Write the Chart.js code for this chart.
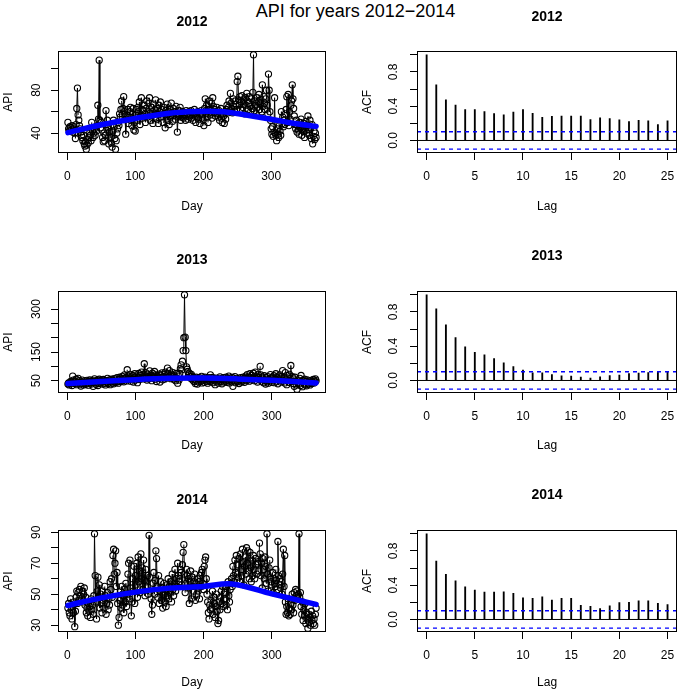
<!DOCTYPE html>
<html lang="en">
<head>
<meta charset="UTF-8">
<title>API for years 2012−2014</title>
<style>
  *{box-sizing:border-box;margin:0;padding:0}
  body{width:685px;height:693px;background:#fff;position:relative;overflow:hidden;font-family:"Liberation Sans",Arial,Helvetica,sans-serif;color:#000}
  #main{position:absolute;top:2px;left:355.5px;transform:translateX(-50%);font-size:18px;line-height:18px;white-space:nowrap}
  canvas{position:absolute}
</style>
</head>
<body>

<div id="main">API for years 2012−2014</div>

<script src="https://cdn.jsdelivr.net/npm/chart.js@4.4.0"></script>
<script>
/* daily API values (day 1..n) */
const api2012=[
 50,44,42,46,45,43,47,41,44,46, 40,35,48,63,82,57,52,47,44,41, 38,36,33,38,30,28,32,25,29,34,
 31,36,40,38,33,50,42,36,40,44, 38,46,42,47,66,53,108,52,45,50, 43,36,32,40,33,38,61,48,52,45,
 30,41,36,47,31,27,42,52,46,35, 25,33,40,44,50,47,58,55,62,70, 58,63,74,60,56,39,53,57,62,49,
 55,60,64,52,47,58,63,43,50,42, 57,62,52,64,60,69,48,56,73,62, 54,61,66,58,50,63,70,55,60,68,
 73,52,57,64,60,49,67,55,62,71, 58,53,63,49,66,60,69,55,62,57, 50,64,58,45,61,56,67,52,60,48,
 62,55,68,59,51,63,57,60,53,65, 58,41,55,61,56,64,52,58,55,60, 54,59,57,52,61,56,58,53,60,55,
 57,61,54,59,52,58,62,56,50,59, 55,60,53,57,49,58,61,54,56,52, 47,63,72,58,66,55,50,62,70,57,
 61,68,54,73,65,59,62,56,60,64, 58,55,61,52,57,63,54,50,58,56, 49,60,53,62,66,59,64,70,61,77,
 68,63,59,72,65,60,70,67,62,88, 93,71,66,74,62,69,75,64,71,67, 58,73,66,77,70,62,68,74,65,60,
 72,63,78,113,61,70,66,58,73,64, 69,76,62,67,71,60,85,65,74,68, 62,72,80,66,58,95,80,60,52,44,
 39,46,37,41,73,40,38,33,44,39, 36,47,42,38,60,49,55,46,52,48, 58,62,74,50,76,47,60,53,66,70,
 85,72,63,56,48,44,52,41,47,43, 39,50,45,53,38,46,42,49,36,44, 51,40,47,56,43,38,52,45,35,48,
 30,37,42,34,40,36];
const api2013=[
 38,42,35,40,47,44,33,66,52,45, 40,48,55,36,42,58,50,44,38,31, 46,52,40,35,43,49,37,45,51,41,
 34,47,53,42,38,50,44,30,48,56, 43,37,51,46,33,40,55,48,42,52, 45,38,54,47,41,35,50,44,58,40,
 48,53,36,46,55,42,50,39,57,45, 52,44,60,48,41,55,62,47,58,50, 65,53,46,70,57,61,49,88,66,54,
 59,72,48,63,55,68,45,60,74,52, 66,57,43,62,75,54,69,58,80,63, 71,56,109,67,78,60,52,73,65,57,
 84,61,68,50,76,59,64,82,55,70, 47,66,62,58,73,45,69,60,77,53, 64,71,56,80,66,60,94,74,62,85,
 68,57,72,63,78,55,67,60,50,75, 58,41,66,52,75,92,105,88,118,155, 200,350,202,155,98,90,82,70,76,64,
 58,72,66,52,61,47,55,40,62,50, 38,57,45,60,53,48,65,42,56,51, 44,62,55,48,58,41,52,60,47,70,
 54,49,61,43,57,52,36,59,46,55, 50,41,58,63,47,53,39,56,60,45, 52,48,62,44,57,50,66,42,59,54,
 46,61,30,55,49,64,43,58,51,47, 56,40,53,60,45,52,48,62,57,44, 59,66,50,71,55,62,48,74,60,53,
 68,57,76,63,50,80,58,66,45,72, 61,54,100,70,48,62,56,43,67,52, 38,60,46,64,41,55,49,71,58,44,
 62,50,67,43,56,74,48,60,39,66, 52,70,45,63,57,85,49,61,42,78, 55,36,68,50,44,72,58,103,47,64,
 40,56,30,62,48,35,20,44,52,38, 58,33,68,45,29,50,41,55,36,47, 32,53,42,38,49,35,44,51,40,46,
 54,42,48,56,50];
const api2014=[
 41,44,38,36,47,40,34,42,38,45, 29,39,48,52,44,51,46,53,49,55, 47,52,45,50,54,43,48,38,41,36,
 44,39,42,35,47,40,43,37,49,89, 62,45,34,52,61,48,56,41,50,44, 38,52,46,41,55,49,37,44,51,40,
 47,43,58,53,60,48,75,79,63,70, 78,55,64,44,30,35,46,52,41,55, 43,49,38,53,45,57,42,50,63,70,
 47,72,54,36,45,60,52,68,44,62, 56,70,48,74,58,65,51,76,60,67, 53,72,59,49,66,58,55,62,50,88,
 61,52,47,37,43,57,64,50,59,78, 73,55,48,62,44,52,58,46,54,41, 50,57,45,53,42,56,49,60,47,55,
 51,58,45,63,53,49,57,66,52,60, 55,70,62,58,60,66,64,56,69,77, 82,63,51,57,66,62,54,60,44,58,
 65,47,61,55,52,58,63,46,57,50, 60,52,58,47,62,55,64,66,57,53, 68,72,74,60,50,45,38,34,43,40,
 46,41,52,37,48,44,35,42,50,39, 31,33,45,40,48,52,44,55,42,50, 51,47,43,55,40,58,49,45,53,57,
 60,55,68,62,58,72,64,75,69,63, 61,73,58,76,66,62,79,71,56,68, 74,63,80,70,78,65,60,77,67,58,
 72,62,75,66,60,73,69,63,70,71, 65,83,76,62,70,54,73,66,60,74, 68,57,89,63,52,67,72,61,58,56,
 64,51,60,57,55,66,59,53,84,62, 56,60,54,58,50,63,79,55,75,45, 37,42,38,47,36,41,37,44,40,50,
 43,38,51,46,53,49,52,47,50,89, 48,51,42,37,45,33,40,36,44,31, 38,34,28,37,32,35,30,39,33,36,
 31,34,30,37,41];

/* blue smoothing curve */
const smoothDays2012=[1,50,100,150,190,230,252,300,330,366];
const smoothVals2012=[40.5,47.8,53.7,58.6,60.2,60,58,53,49.5,46.3];
const smoothDays2013=[1,50,100,150,200,250,300,365];
const smoothVals2013=[40,47,53.5,58,59,56,51,42];
const smoothDays2014=[1,50,100,150,200,242,300,365];
const smoothVals2014=[42.7,47.6,51.3,53.9,55,56.6,50.2,43.4];

/* ACF by lag */
const lags=[0,1,2,3,4,5,6,7,8,9,10,11,12,13,14,15,16,17,18,19,20,21,22,23,24,25];
const acf2012=[1,0.649,0.475,0.414,0.36,0.36,0.336,0.313,0.298,0.332,0.36,0.317,0.27,0.282,0.286,0.286,0.286,0.243,0.263,0.255,0.24,0.22,0.236,0.228,0.185,0.228];
const acf2013=[1,0.835,0.649,0.502,0.394,0.328,0.298,0.255,0.205,0.162,0.12,0.089,0.089,0.07,0.054,0.05,0.039,0.027,0.043,0.058,0.062,0.081,0.085,0.093,0.104,0.104];
const acf2014=[1,0.681,0.527,0.45,0.381,0.342,0.319,0.319,0.323,0.304,0.254,0.246,0.265,0.227,0.246,0.246,0.165,0.154,0.127,0.158,0.196,0.2,0.219,0.219,0.188,0.173];
const ci=0.102;

/* ticks */
const dayTicks=[0,100,200,300];
const yTicks2012=[40,60,80,100],  yLabels2012=[40,80];
const yTicks2013=[50,100,150,200,250,300], yLabels2013=[50,150,300];
const yTicks2014=[30,40,50,60,70,80,90], yLabels2014=[30,50,70,90];
const lagTicks=[0,5,10,15,20,25];
const acfTicks=[0,0.2,0.4,0.6,0.8,1], acfLabels=[0,0.4,0.8];

/* layout */
Chart.defaults.font.family='"Liberation Sans",Arial,Helvetica,sans-serif';
Chart.defaults.color='#000';
const LEFT={left:0,width:345,yw:58,padR:19,yTitlePad:3};
const RIGHT={left:345,width:340,yw:72,padR:1,yTitlePad:16.5};
const ROWS=[
  {top:0,  boxTop:51, boxBottom:153,titleL:22,   titleR:17, axisTitle:207},
  {top:236,boxTop:291,boxBottom:393,titleL:260.5,titleR:256,axisTitle:446},
  {top:470,boxTop:530,boxBottom:632,titleL:500,  titleR:495,axisTitle:683}
];

const boxPlugin={id:'box',afterDraw(chart){
  const {ctx,chartArea:a}=chart;
  ctx.save();ctx.strokeStyle='#000';ctx.lineWidth=1;
  ctx.strokeRect(Math.round(a.left)+0.5,Math.round(a.top)+0.5,Math.round(a.right-a.left)-1,Math.round(a.bottom-a.top)-1);
  ctx.restore();
}};

function makeCanvas(col,row){
  const c=document.createElement('canvas');
  c.width=col.width;c.height=row.axisTitle+10-row.top;
  c.style.left=col.left+'px';c.style.top=row.top+'px';
  document.body.appendChild(c);
  return c;
}

const tickGrid={drawOnChartArea:false,drawTicks:true,tickLength:7,tickColor:'#000',color:'#000',offset:false};

function xScale(min,max,ticks,title,row){
  return {type:'linear',min:min,max:max,offset:false,
    afterBuildTicks:s=>{s.ticks=ticks.map(v=>({value:v}));},
    afterFit:s=>{s.height=row.axisTitle+10-row.boxBottom;},
    grid:tickGrid,border:{display:false},
    ticks:{autoSkip:false,maxRotation:0,padding:10.5,font:{size:12,lineHeight:1}},
    title:{display:true,text:title,font:{size:12,lineHeight:1},padding:{top:0,bottom:4}}};
}
function yScale(min,max,ticks,labels,fmt,title,col,pad){
  return {type:'linear',min:min,max:max,
    afterBuildTicks:s=>{s.ticks=ticks.map(v=>({value:v}));},
    afterFit:s=>{s.width=col.yw;},
    grid:tickGrid,border:{display:false},
    ticks:{autoSkip:false,minRotation:90,maxRotation:90,crossAlign:'center',padding:pad,
      font:{size:12,lineHeight:1},callback:v=>labels.includes(v)?fmt(v):''},
    title:{display:true,text:title,font:{size:12,lineHeight:1},padding:{top:col.yTitlePad,bottom:0}}};
}
function baseOptions(col,row,titleText,titleY,x,y){
  return {responsive:false,animation:false,events:[],
    layout:{padding:{left:0,right:col.padR,top:0,bottom:0}},
    plugins:{legend:{display:false},tooltip:{enabled:false},
      title:{display:true,text:titleText,fullSize:false,color:'#000',
        font:{size:14,weight:'bold',lineHeight:1},
        padding:{top:titleY-7-row.top,bottom:row.boxTop-titleY-7}}},
    scales:{x:x,y:y}};
}

function seriesPanel(row,year,vals,sDays,sVals,yTicks,yLabels,tickPad){
  const n=vals.length;
  const lo=Math.min(...vals),hi=Math.max(...vals),r=hi-lo;
  const opts=baseOptions(LEFT,row,year,row.titleL,
    xScale(1-0.04*(n-1),n+0.04*(n-1),dayTicks,'Day',row),
    yScale(lo-0.04*r,hi+0.04*r,yTicks,yLabels,v=>String(v),'API',LEFT,tickPad));
  new Chart(makeCanvas(LEFT,row),{type:'line',
    data:{datasets:[
      {data:sDays.map((d,i)=>({x:d,y:sVals[i]})),borderColor:'#0000ff',borderWidth:5.5,
        borderCapStyle:'round',borderJoinStyle:'round',pointRadius:0,tension:0.35},
      {data:vals.map((v,i)=>({x:i+1,y:v})),borderColor:'#000',borderWidth:1,tension:0,
        pointRadius:3.1,pointBorderWidth:1.1,pointBorderColor:'#000',pointBackgroundColor:'rgba(0,0,0,0)',
        segment:{borderColor:s=>Math.hypot(s.p1.x-s.p0.x,s.p1.y-s.p0.y)<11?'rgba(0,0,0,0)':'#000'}}
    ]},
    options:opts,plugins:[boxPlugin]});
}

function acfPanel(row,year,acf){
  const lagMin=lags[0]-0.04*(lags[lags.length-1]-lags[0]);
  const lagMax=lags[lags.length-1]+0.04*(lags[lags.length-1]-lags[0]);
  const lo=Math.min(...acf,-ci),hi=Math.max(...acf,ci),r=hi-lo;
  const opts=baseOptions(RIGHT,row,year,row.titleR,
    xScale(lagMin,lagMax,lagTicks,'Lag',row),
    yScale(lo-0.04*r,hi+0.04*r,acfTicks,acfLabels,v=>v.toFixed(1),'ACF',RIGHT,7.6));
  const hline=(y,color,dash)=>({type:'line',data:[{x:lagMin,y:y},{x:lagMax,y:y}],
    borderColor:color,borderWidth:dash?1.3:1,borderDash:dash?[4,4]:[],pointRadius:0});
  new Chart(makeCanvas(RIGHT,row),{type:'bar',
    data:{datasets:[
      hline(ci,'#0000ff',true),hline(-ci,'#0000ff',true),hline(0,'#000',false),
      {type:'bar',data:lags.map((l,i)=>({x:l,y:acf[i]})),backgroundColor:'#000',barThickness:1.2}
    ]},
    options:opts,plugins:[boxPlugin]});
}

seriesPanel(ROWS[0],'2012',api2012,smoothDays2012,smoothVals2012,yTicks2012,yLabels2012,7.3);
seriesPanel(ROWS[1],'2013',api2013,smoothDays2013,smoothVals2013,yTicks2013,yLabels2013,4);
seriesPanel(ROWS[2],'2014',api2014,smoothDays2014,smoothVals2014,yTicks2014,yLabels2014,7.3);
acfPanel(ROWS[0],'2012',acf2012);
acfPanel(ROWS[1],'2013',acf2013);
acfPanel(ROWS[2],'2014',acf2014);
</script>

</body>
</html>
